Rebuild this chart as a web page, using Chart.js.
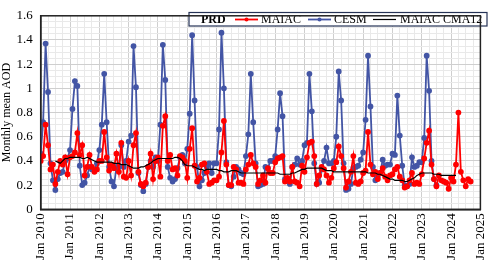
<!DOCTYPE html>
<html>
<head>
<meta charset="utf-8">
<script src="https://cdn.jsdelivr.net/npm/chart.js@4.4.1/dist/chart.umd.min.js"></script>
<style>
  body { margin: 0; background: #fff; }
  #wrap { width: 500px; height: 265px; }
</style>
</head>
<body>
<div id="wrap"><canvas id="aod"></canvas></div>
<script>
// month index 0 = Jan 2010
const yearLabels = ['Jan 2010', 'Jan 2011', 'Jan 2012', 'Jan 2013', 'Jan 2014', 'Jan 2015', 'Jan 2016', 'Jan 2017',
                    'Jan 2018', 'Jan 2019', 'Jan 2020', 'Jan 2021', 'Jan 2022', 'Jan 2023', 'Jan 2024', 'Jan 2025'];

// MAIAC monthly AOD, Jan 2010 - Sep 2024
const maiac = [
  0.40, 0.44, 0.70, 0.53, 0.33, 0.37, 0.21, 0.31, 0.40, 0.37, 0.43, 0.29, // 2010
  0.43, 0.44, 0.47, 0.63, 0.45, 0.53, 0.28, 0.35, 0.45, 0.35, 0.31, 0.33, // 2011
  0.40, 0.40, 0.64, 0.43, 0.32, 0.37, 0.34, 0.46, 0.31, 0.55, 0.27, 0.26, // 2012
  0.40, 0.28, 0.53, 0.63, 0.31, 0.21, 0.19, 0.22, 0.35, 0.46, 0.25, 0.40, // 2013
  0.43, 0.27, 0.69, 0.77, 0.40, 0.45, 0.33, 0.34, 0.28, 0.44, 0.43, 0.40, // 2014
  0.26, 0.50, 0.67, 0.36, 0.23, 0.26, 0.37, 0.38, 0.31, 0.21, 0.22, 0.24, // 2015
  0.24, 0.27, 0.47, 0.73, 0.37, 0.20, 0.20, 0.35, 0.33, 0.22, 0.22, 0.21, // 2016
  0.33, 0.37, 0.45, 0.38, 0.35, 0.21, 0.24, 0.28, 0.22, 0.34, 0.30, 0.30, // 2017
  0.39, 0.42, 0.43, 0.44, 0.23, 0.26, 0.23, 0.35, 0.23, 0.22, 0.19, 0.36, // 2018
  0.31, 0.43, 0.55, 0.56, 0.44, 0.21, 0.28, 0.35, 0.33, 0.28, 0.22, 0.26, // 2019
  0.34, 0.39, 0.52, 0.44, 0.34, 0.18, 0.23, 0.31, 0.44, 0.22, 0.21, 0.23, // 2020
  0.30, 0.32, 0.64, 0.37, 0.29, 0.31, 0.25, 0.30, 0.34, 0.27, 0.24, 0.28, // 2021
  0.29, 0.33, 0.35, 0.27, 0.24, 0.18, 0.19, 0.24, 0.30, 0.21, 0.22, 0.21, // 2022
  0.29, 0.42, 0.55, 0.65, 0.37, 0.25, 0.19, 0.28, 0.24, 0.23, 0.22, 0.17, // 2023
  0.26, 0.23, 0.37, 0.80, 0.31, 0.24, 0.19, 0.25, 0.23                    // 2024
];

// CESM monthly AOD, Jan 2010 - Jul 2023
const cesm = [
  0.46, 0.72, 1.37, 0.97, 0.38, 0.24, 0.16, 0.25, 0.30, 0.31, 0.40, 0.42, // 2010
  0.49, 0.83, 1.06, 1.02, 0.36, 0.20, 0.22, 0.28, 0.35, 0.33, 0.32, 0.38, // 2011
  0.49, 0.70, 1.12, 0.72, 0.35, 0.23, 0.19, 0.35, 0.35, 0.53, 0.35, 0.40, // 2012
  0.56, 0.61, 1.35, 1.01, 0.30, 0.20, 0.15, 0.21, 0.35, 0.40, 0.35, 0.43, // 2013
  0.40, 0.70, 1.36, 1.07, 0.35, 0.26, 0.23, 0.25, 0.34, 0.43, 0.45, 0.38, // 2014
  0.50, 0.79, 1.44, 0.90, 0.35, 0.19, 0.24, 0.30, 0.35, 0.38, 0.30, 0.38, // 2015
  0.38, 0.66, 1.46, 1.00, 0.39, 0.20, 0.19, 0.27, 0.35, 0.33, 0.30, 0.29, // 2016
  0.44, 0.62, 1.12, 0.72, 0.38, 0.19, 0.20, 0.21, 0.35, 0.34, 0.40, 0.40, // 2017
  0.44, 0.66, 0.96, 0.77, 0.25, 0.24, 0.21, 0.35, 0.37, 0.42, 0.37, 0.40, // 2018
  0.53, 0.55, 1.12, 0.81, 0.38, 0.21, 0.22, 0.33, 0.40, 0.51, 0.38, 0.38, // 2019
  0.40, 0.60, 1.14, 0.90, 0.38, 0.16, 0.17, 0.21, 0.34, 0.35, 0.36, 0.41, // 2020
  0.47, 0.74, 1.27, 0.85, 0.35, 0.24, 0.27, 0.30, 0.41, 0.36, 0.37, 0.37, // 2021
  0.46, 0.45, 0.94, 0.61, 0.36, 0.20, 0.19, 0.21, 0.43, 0.35, 0.36, 0.39, // 2022
  0.39, 0.59, 1.27, 0.98, 0.40, 0.25, 0.20                                // 2023
];

// MAIAC 12-month centred moving average, Jul 2010 - Mar 2024
const cma12 = [
  null, null, null, null, null, null, 0.40, 0.39, 0.38, 0.40, 0.42, 0.42,
  0.43, 0.43, 0.43, 0.43, 0.43, 0.42, 0.42, 0.43, 0.42, 0.41, 0.40, 0.39,
  0.39, 0.39, 0.39, 0.39, 0.39, 0.39, 0.38, 0.38, 0.38, 0.37, 0.37, 0.37,
  0.36, 0.35, 0.34, 0.34, 0.34, 0.35, 0.35, 0.36, 0.37, 0.38, 0.40, 0.41,
  0.42, 0.42, 0.42, 0.42, 0.42, 0.42, 0.42, 0.43, 0.43, 0.42, 0.40, 0.37,
  0.36, 0.36, 0.36, 0.35, 0.34, 0.33, 0.33, 0.32, 0.33, 0.33, 0.33, 0.33,
  0.33, 0.32, 0.32, 0.31, 0.31, 0.31, 0.32, 0.32, 0.32, 0.31, 0.30, 0.30,
  0.30, 0.30, 0.30, 0.30, 0.30, 0.30, 0.30, 0.30, 0.30, 0.30, 0.30, 0.30,
  0.30, 0.30, 0.29, 0.29, 0.29, 0.29, 0.29, 0.30, 0.30, 0.31, 0.32, 0.33,
  0.33, 0.34, 0.34, 0.34, 0.34, 0.34, 0.34, 0.34, 0.33, 0.32, 0.32, 0.32,
  0.31, 0.31, 0.31, 0.31, 0.31, 0.31, 0.31, 0.31, 0.31, 0.31, 0.31, 0.31,
  0.31, 0.31, 0.30, 0.30, 0.30, 0.30, 0.29, 0.29, 0.28, 0.27, 0.26, 0.25,
  0.25, 0.24, 0.24, 0.24, 0.24, 0.23, 0.23, 0.24, 0.25, 0.26, 0.28, 0.29,
  0.30, 0.30, 0.30, 0.30, 0.30, 0.29, 0.29, 0.29, 0.28, 0.28, 0.28, 0.28,
  0.28, 0.28, 0.28
];

const red = '#ff0000';
const blue = '#4355a5';
const serif = "'Liberation Serif', 'Times New Roman', serif";

function toPoints(arr) {
  return arr.map((v, i) => ({ x: i, y: v }));
}

// legend box drawn inside the plot, with the "PRD" tag in front
const boxLegend = {
  id: 'boxLegend',
  afterDraw(chart) {
    const c = chart.ctx;
    c.save();
    c.fillStyle = '#fff';
    c.fillRect(189, 12.5, 298, 13.5);
    c.strokeStyle = '#253255';
    c.lineWidth = 1.2;
    c.strokeRect(189, 12.5, 298, 13.5);
    c.textBaseline = 'middle';
    c.fillStyle = '#000';
    c.font = 'bold 12px ' + serif;
    c.fillText('PRD', 201, 19.5);
    c.font = '12px ' + serif;
    const items = [
      { x: 235, text: 'MAIAC', color: red, dot: true, textX: 261 },
      { x: 308, text: 'CESM', color: blue, dot: true, textX: 334 },
      { x: 373, text: 'MAIAC CMA12', color: '#000', dot: false, textX: 400 }
    ];
    items.forEach(it => {
      c.strokeStyle = it.color;
      c.lineWidth = it.dot ? 1.8 : 1.2;
      c.beginPath();
      c.moveTo(it.x, 19.5);
      c.lineTo(it.x + 23, 19.5);
      c.stroke();
      if (it.dot) {
        c.fillStyle = it.color;
        c.beginPath();
        c.arc(it.x + 11.5, 19.5, 2, 0, Math.PI * 2);
        c.fill();
      }
      c.fillStyle = '#000';
      c.fillText(it.text, it.textX, 19.5);
    });
    // plot frame
    const a = chart.chartArea;
    c.strokeStyle = '#222';
    c.lineWidth = 1.5;
    c.strokeRect(a.left, a.top, a.right - a.left, a.bottom - a.top);
    c.restore();
  }
};

new Chart(document.getElementById('aod'), {
  type: 'line',
  data: {
    datasets: [
      {
        label: 'MAIAC CMA12',
        data: toPoints(cma12),
        borderColor: '#000',
        borderWidth: 1.2,
        pointRadius: 0,
        order: 0
      },
      {
        label: 'MAIAC',
        data: toPoints(maiac),
        borderColor: red,
        backgroundColor: red,
        borderWidth: 1.8,
        pointRadius: 2,
        order: 1
      },
      {
        label: 'CESM',
        data: toPoints(cesm),
        borderColor: blue,
        backgroundColor: blue,
        borderWidth: 1.8,
        pointRadius: 2,
        order: 2
      }
    ]
  },
  options: {
    responsive: true,
    maintainAspectRatio: false,
    animation: false,
    layout: { padding: { top: 9, right: 9, left: 0, bottom: 0 } },
    plugins: { legend: { display: false }, tooltip: { enabled: false } },
    scales: {
      x: {
        type: 'linear',
        min: 0,
        max: 180,
        afterFit: s => { s.height = 55.7; },
        grid: {
          drawTicks: false,
          color: ctx => (ctx.tick && ctx.tick.value % 12 === 0) ? '#cfcfcf' : '#e9e9e9'
        },
        border: { color: '#000', width: 1.5 },
        ticks: {
          stepSize: 3,
          autoSkip: false,
          minRotation: 90,
          maxRotation: 90,
          padding: 4,
          color: '#000',
          font: { family: serif, size: 13 },
          callback: v => (v % 12 === 0) ? yearLabels[v / 12] : ''
        }
      },
      y: {
        min: 0,
        max: 1.6,
        afterFit: s => { s.width = 40.7; },
        grid: {
          drawTicks: false,
          color: ctx => (ctx.tick && Math.round(ctx.tick.value * 100) % 20 === 0) ? '#cfcfcf' : '#e9e9e9'
        },
        border: { color: '#000', width: 1.5 },
        ticks: {
          stepSize: 0.05,
          autoSkip: false,
          padding: 8,
          color: '#000',
          font: { family: serif, size: 13 },
          callback: v => (Math.round(v * 100) % 20 === 0) ? String(+v.toFixed(1)) : ''
        },
        title: {
          display: true,
          text: 'Monthly mean AOD',
          color: '#000',
          font: { family: serif, size: 12 },
          padding: { top: 0, bottom: 2 }
        }
      }
    }
  },
  plugins: [boxLegend]
});
</script>
</body>
</html>
